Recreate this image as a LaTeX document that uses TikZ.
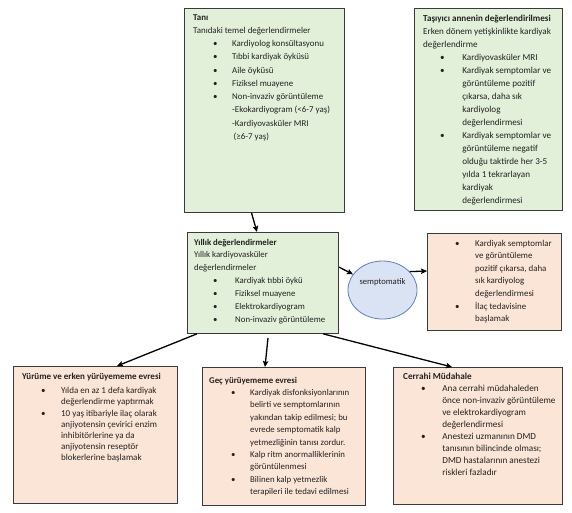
\documentclass[tikz,border=0pt]{standalone}
\usepackage{fontspec}
\setmainfont{Carlito}
\usetikzlibrary{arrows.meta,calc,shapes.geometric}
\definecolor{gfill}{HTML}{E2EFD9}
\definecolor{ofill}{HTML}{FBE5D6}
\definecolor{bfill}{HTML}{DAE3F3}
\definecolor{bline}{HTML}{5E7FBF}
\definecolor{kline}{HTML}{3A3A3A}
\definecolor{txtc}{HTML}{222222}
\newcommand{\bl}{\textbullet}
\newcommand{\hd}[1]{\multicolumn{2}{@{}l@{}}{#1}}
\newcommand{\blist}[3]{\begin{tabular}[t]{@{\hspace{#1pt}}l@{\hspace{#2pt}}l@{}}#3\end{tabular}}
\tikzset{
  gbox/.style={draw=kline, line width=0.8pt, fill=gfill, anchor=north west, inner sep=0pt},
  obox/.style={draw=kline, line width=0.8pt, fill=ofill, anchor=north west, inner sep=0pt},
  circ/.style={ellipse, draw=bline, line width=0.8pt, fill=bfill, inner sep=0pt},
  txt/.style={anchor=base west, inner sep=0pt, text=txtc},
  arr/.style={draw=black, line width=1.3pt, -{Stealth[length=6pt,width=5.5pt,inset=1pt]}}
}
\begin{document}
\begin{tikzpicture}[x=1pt,y=-1pt]
\useasboundingbox (0,0) rectangle (572,512);
\fill[white] (0,0) rectangle (572,512);

% boxes
\node[gbox, minimum width=160pt, minimum height=204pt] (tani) at (184,8) {};
\node[gbox, minimum width=148pt, minimum height=202pt] (tasiyici) at (414,8) {};
\node[gbox, minimum width=151pt, minimum height=101pt] (yillik) at (187,232) {};
\node[obox, minimum width=134pt, minimum height=97pt] (ilac) at (427,233) {};
\node[obox, minimum width=164pt, minimum height=137pt] (yurume) at (13,366) {};
\node[obox, minimum width=163pt, minimum height=138pt] (gec) at (202,367) {};
\node[obox, minimum width=169pt, minimum height=137pt] (cerrahi) at (393,367) {};
\node[circ, minimum width=69pt, minimum height=58pt] (semp) at (382.5,290) {};
\node[txt, anchor=center, font=\fontsize{8.6}{10}\selectfont] (semptxt) at (382.5,282) {semptomatik};

% texts
\node[txt, font=\fontsize{8.9}{13.26}\selectfont] (tanit) at (193,20) {\blist{20}{14.6}{%
\hd{\textbf{Tanı}}\\
\hd{Tanıdaki temel değerlendirmeler}\\
\bl & Kardiyolog konsültasyonu\\
\bl & Tıbbi kardiyak öyküsü\\
\bl & Aile öyküsü\\
\bl & Fiziksel muayene\\
\bl & Non-invaziv görüntüleme\\
 & -Ekokardiyogram (<6-7 yaş)\\
 & -Kardiyovasküler MRI\\
 & \hspace{1.5pt}(≥6-7 yaş)}};

\node[txt, font=\fontsize{9.1}{13}\selectfont] (tasiyicit) at (423,21) {\blist{17}{17.6}{%
\hd{\textbf{Taşıyıcı annenin değerlendirilmesi}}\\
\hd{Erken dönem yetişkinlikte kardiyak}\\
\hd{değerlendirme}\\
\bl & Kardiyovasküler MRI\\
\bl & Kardiyak semptomlar ve\\
 & görüntüleme pozitif\\
 & çıkarsa, daha sık\\
 & kardiyolog\\
 & değerlendirmesi\\
\bl & Kardiyak semptomlar ve\\
 & görüntüleme negatif\\
 & olduğu taktirde her 3-5\\
 & yılda 1 tekrarlayan\\
 & kardiyak\\
 & değerlendirmesi}};

\node[txt, font=\fontsize{8.8}{12.9}\selectfont] (yillikt) at (194,245) {\blist{19}{17.6}{%
\hd{\textbf{Yıllık değerlendirmeler}}\\
\hd{Yıllık kardiyovasküler}\\
\hd{değerlendirmeler}\\
\bl & Kardiyak tıbbi öykü\\
\bl & Fiziksel muayene\\
\bl & Elektrokardiyogram\\
\bl & Non-invaziv görüntüleme}};

\node[txt, font=\fontsize{8.9}{12.6}\selectfont] (ilact) at (455,246) {\blist{0}{15.6}{%
\bl & Kardiyak semptomlar\\
 & ve görüntüleme\\
 & pozitif çıkarsa, daha\\
 & sık kardiyolog\\
 & değerlendirmesi\\
\bl & İlaç tedavisine\\
 & başlamak}};

\node[txt, font=\fontsize{9.0}{11}\selectfont] (yurumet) at (22,379) {\blist{19}{15.5}{%
\hd{\textbf{Yürüme ve erken yürüyememe evresi}}\\[3pt]
\bl & Yılda en az 1 defa kardiyak\\
 & değerlendirme yaptırmak\\[1.3pt]
\bl & 10 yaş itibariyle ilaç olarak\\
 & anjiyotensin çevirici enzim\\
 & inhibitörlerine ya da\\
 & anjiyotensin reseptör\\
 & blokerlerine başlamak}};

\node[txt, font=\fontsize{8.8}{12.4}\selectfont] (gect) at (209,383) {\blist{22}{14.6}{%
\hd{\textbf{Geç yürüyememe evresi}}\\
\bl & Kardiyak disfonksiyonlarının\\
 & belirti ve semptomlarının\\
 & yakından takip edilmesi; bu\\
 & evrede semptomatik kalp\\
 & yetmezliğinin tanısı zordur.\\
\bl & Kalp ritm anormalliklerinin\\
 & görüntülenmesi\\
\bl & Bilinen kalp yetmezlik\\
 & terapileri ile tedavi edilmesi}};

\node[txt, font=\fontsize{9.2}{12.1}\selectfont] (cerrahit) at (403,379) {\blist{18}{16.6}{%
\hd{\textbf{Cerrahi Müdahale}}\\
\bl & Ana cerrahi müdahaleden\\
 & önce non-invaziv görüntüleme\\
 & ve elektrokardiyogram\\
 & değerlendirmesi\\
\bl & Anestezi uzmanının DMD\\
 & tanısının bilincinde olması;\\
 & DMD hastalarının anestezi\\
 & riskleri fazladır}};

% connectors
\draw[arr] ($(tani.south west)+(67.5,0)$) -- ($(yillik.north west)+(70,0)$);
\draw[arr] ($(yillik.north east)+(0,35)$) -- (semp.152);
\draw[arr] (semp.34) -- ($(ilac.north west)+(0,38)$);
\draw[arr] ($(yillik.south west)+(10,0)$) -- ($(yurume.north west)+(104,0)$);
\draw[arr] ($(yillik.south west)+(81,4)$) -- ($(gec.north west)+(63,0)$);
\draw[arr] ($(yillik.south west)+(136,0)$) -- ($(cerrahi.north west)+(59,0)$);
\end{tikzpicture}
\end{document}
